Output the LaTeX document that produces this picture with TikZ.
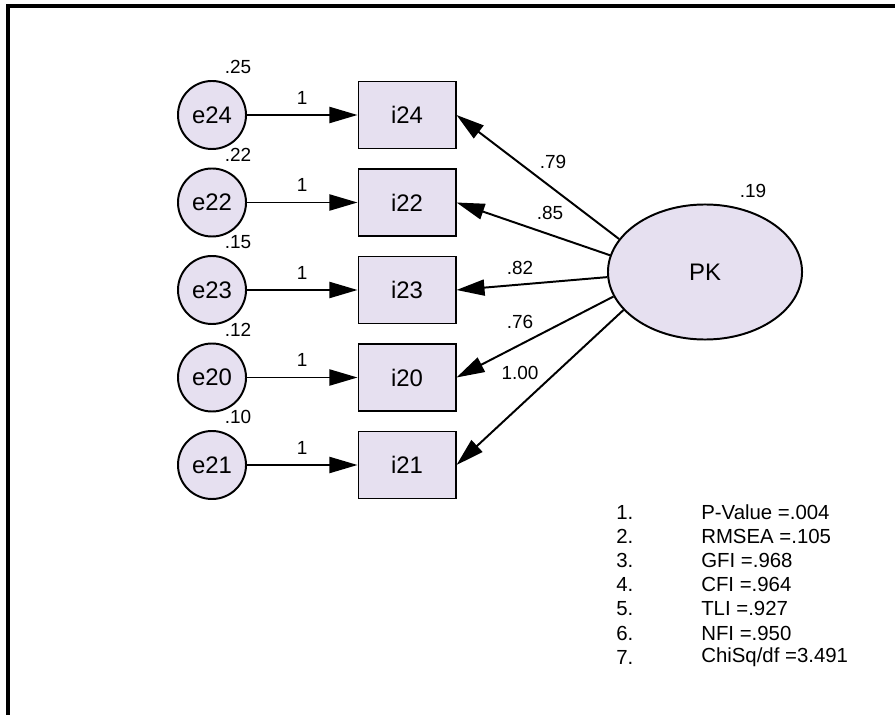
\documentclass[tikz,border=0pt]{standalone}
\usepackage{fontspec}
\setmainfont{Liberation Sans}
\usetikzlibrary{arrows.meta,shapes.geometric}

\definecolor{amosfill}{RGB}{230,224,240}

\tikzset{
	path/.style={line width=1.4pt, -{Triangle[length=0.7cm, width=0.4cm]}},
	errvar/.style={circle, draw, line width=1.4pt, fill=amosfill, minimum size=1.7cm, inner sep=0pt, font=\fontsize{17}{18}\selectfont},
	item/.style={rectangle, draw, line width=1.4pt, fill=amosfill, minimum width=2.425cm, minimum height=1.675cm, inner sep=0pt, font=\fontsize{17}{18}\selectfont},
	factor/.style={ellipse, draw, line width=1.4pt, fill=amosfill, minimum width=4.85cm, minimum height=3.375cm, inner sep=0pt, font=\fontsize{17}{18}\selectfont},
	est/.style={inner sep=0pt, font=\fontsize{13.5}{14}\selectfont},
	fit/.style={inner sep=0pt, anchor=west, font=\fontsize{14.5}{16}\selectfont}
}

\begin{document}
\begin{tikzpicture}[x=0.025cm, y=-0.025cm]

	\useasboundingbox (0,0) rectangle (895,715);

	% Frame
	\draw[line width=2.2pt] (8,716) -- (8,6) -- (896,6);

	% Errors and items
	\foreach \n/\v [count=\k] in {24/.25, 22/.22, 23/.15, 20/.12, 21/.10}
	{
		\pgfmathsetmacro\y{115+87.5*(\k-1)}
		\node[errvar] (e\n) at (212,\y) {e\n};
		\node[item] (i\n) at (407,\y) {i\n};
		\node[est] (v\n) at (238,\y-48) {\v};
		\draw[path] (e\n) -- node[est, above=7pt] (one\n) {1} (i\n);
	}

	% Factor
	\node[factor] (PK) at (705,272) {PK};
	\node[est] (vPK) at (753,191) {.19};

	% Loadings
	\foreach \n/\a/\l/\lx/\ly in {24/159/.79/553/162, 22/170/.85/550/213, 23/183/.82/520/268, 20/195/.76/520/322, 21/205/1.00/520/373}
	{
		\draw[path] (PK.\a) -- (i\n.east);
		\node[est] (l\n) at (\lx,\ly) {\l};
	}

	% Fit indices
	\foreach \t [count=\k] in {P-Value =.004, RMSEA =.105, GFI =.968, CFI =.964, TLI =.927, NFI =.950, ChiSq/df =3.491}
	{
		\pgfmathsetmacro\y{512+24.2*(\k-1)}
		\node[fit] (num\k) at (616,\y) {\k.};
		\node[fit] (fit\k) at (701,\y) {\t};
	}

\end{tikzpicture}
\end{document}
